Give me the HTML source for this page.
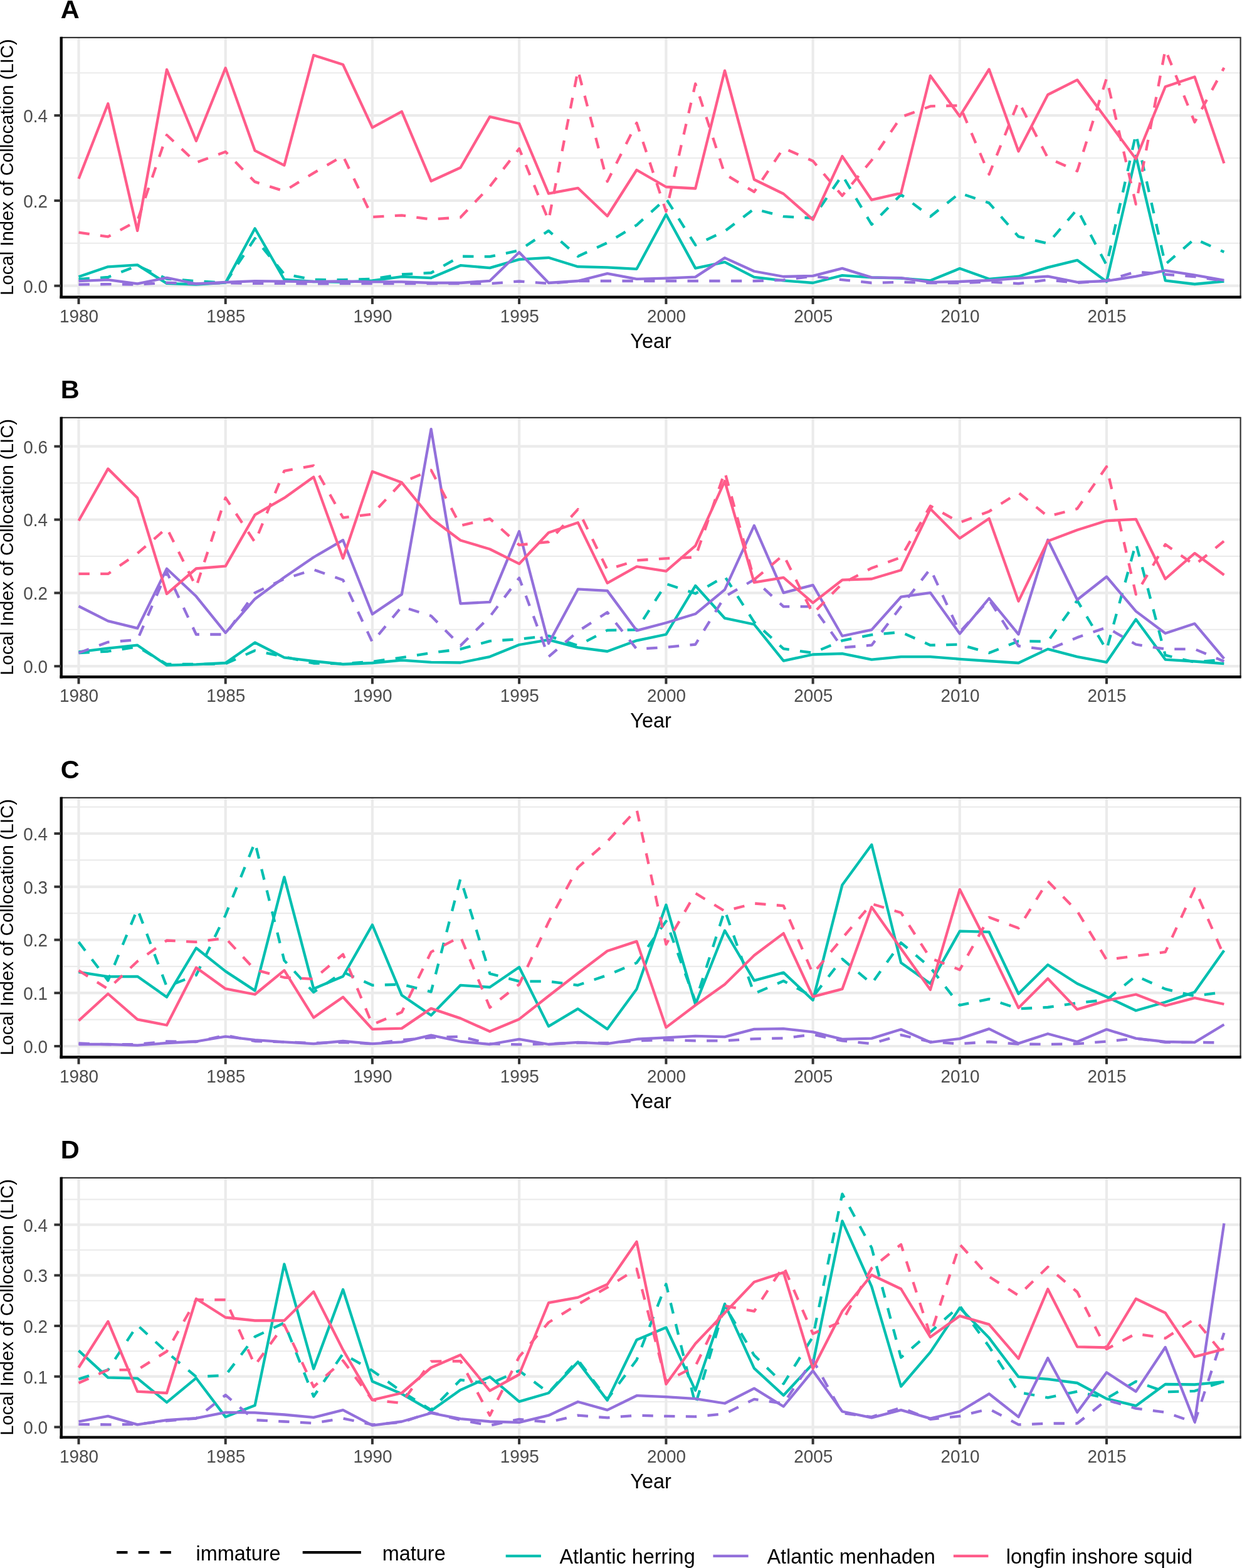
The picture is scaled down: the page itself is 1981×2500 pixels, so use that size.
<!DOCTYPE html>
<html><head><meta charset="utf-8"><title>Local Index of Collocation</title>
<style>
html,body{margin:0;padding:0;background:#fff;}
svg{display:block;}
text{font-family:"Liberation Sans",Arial,sans-serif;}
</style></head><body>
<svg width="1981" height="2500" viewBox="0 0 1981 2500">
<rect x="0" y="0" width="1981" height="2500" fill="#fff"/>

<g>
<line x1="97.7" x2="1978.6" y1="387.8" y2="387.8" stroke="#EBEBEB" stroke-width="2.1"/>
<line x1="97.7" x2="1978.6" y1="252.0" y2="252.0" stroke="#EBEBEB" stroke-width="2.1"/>
<line x1="97.7" x2="1978.6" y1="116.2" y2="116.2" stroke="#EBEBEB" stroke-width="2.1"/>
<line x1="97.7" x2="1978.6" y1="455.7" y2="455.7" stroke="#EBEBEB" stroke-width="4.2"/>
<line x1="97.7" x2="1978.6" y1="319.9" y2="319.9" stroke="#EBEBEB" stroke-width="4.2"/>
<line x1="97.7" x2="1978.6" y1="184.1" y2="184.1" stroke="#EBEBEB" stroke-width="4.2"/>
<line x1="125.5" x2="125.5" y1="59.9" y2="473.7" stroke="#EBEBEB" stroke-width="4.2"/>
<line x1="359.7" x2="359.7" y1="59.9" y2="473.7" stroke="#EBEBEB" stroke-width="4.2"/>
<line x1="593.9" x2="593.9" y1="59.9" y2="473.7" stroke="#EBEBEB" stroke-width="4.2"/>
<line x1="828.1" x2="828.1" y1="59.9" y2="473.7" stroke="#EBEBEB" stroke-width="4.2"/>
<line x1="1062.4" x2="1062.4" y1="59.9" y2="473.7" stroke="#EBEBEB" stroke-width="4.2"/>
<line x1="1296.6" x2="1296.6" y1="59.9" y2="473.7" stroke="#EBEBEB" stroke-width="4.2"/>
<line x1="1530.8" x2="1530.8" y1="59.9" y2="473.7" stroke="#EBEBEB" stroke-width="4.2"/>
<line x1="1765.0" x2="1765.0" y1="59.9" y2="473.7" stroke="#EBEBEB" stroke-width="4.2"/>
<polyline points="125.5,445.2 172.3,442.0 219.2,423.6 266.0,444.5 312.9,448.2 359.7,450.7 406.6,380.1 453.4,437.1 500.2,446.0 547.1,446.1 593.9,444.8 640.8,437.5 687.6,435.0 734.5,408.7 781.3,409.2 828.1,399.3 875.0,367.9 921.8,408.7 968.7,387.0 1015.5,358.8 1062.4,316.7 1109.2,390.7 1156.0,368.6 1202.9,333.0 1249.7,345.2 1296.6,347.7 1343.4,279.3 1390.3,358.0 1437.1,310.3 1483.9,345.2 1530.8,307.9 1577.6,323.6 1624.5,377.2 1671.3,388.3 1718.2,333.7 1765.0,422.7 1811.8,213.4 1858.7,421.5 1905.5,380.9 1952.4,401.8" fill="none" stroke="#00BFB0" stroke-width="4.3" stroke-linejoin="round" stroke-linecap="butt" stroke-dasharray="17.35 17.35"/>
<polyline points="125.5,441.3 172.3,425.3 219.2,422.4 266.0,451.9 312.9,453.6 359.7,450.7 406.6,364.3 453.4,445.7 500.2,449.0 547.1,449.8 593.9,447.3 640.8,441.1 687.6,443.1 734.5,423.2 781.3,427.1 828.1,413.6 875.0,410.8 921.8,425.2 968.7,426.4 1015.5,428.8 1062.4,342.0 1109.2,427.6 1156.0,417.8 1202.9,441.9 1249.7,447.3 1296.6,451.0 1343.4,439.2 1390.3,442.4 1437.1,443.6 1483.9,447.3 1530.8,428.1 1577.6,444.8 1624.5,440.7 1671.3,426.4 1718.2,414.8 1765.0,449.0 1811.8,248.6 1858.7,447.3 1905.5,453.0 1952.4,448.5" fill="none" stroke="#00BFB0" stroke-width="4.3" stroke-linejoin="round" stroke-linecap="butt"/>
<polyline points="125.5,453.6 172.3,453.1 219.2,453.6 266.0,450.7 312.9,452.4 359.7,451.1 406.6,451.9 453.4,451.9 500.2,452.4 547.1,452.2 593.9,452.2 640.8,452.2 687.6,452.2 734.5,452.2 781.3,452.2 828.1,448.5 875.0,452.0 921.8,448.0 968.7,448.0 1015.5,448.0 1062.4,448.0 1109.2,448.0 1156.0,448.0 1202.9,448.0 1249.7,446.5 1296.6,440.5 1343.4,446.1 1390.3,451.0 1437.1,449.8 1483.9,451.0 1530.8,451.0 1577.6,449.5 1624.5,452.2 1671.3,446.1 1718.2,451.0 1765.0,447.3 1811.8,433.3 1858.7,437.5 1905.5,441.1 1952.4,448.0" fill="none" stroke="#9370DB" stroke-width="4.3" stroke-linejoin="round" stroke-linecap="butt" stroke-dasharray="17.35 17.35"/>
<polyline points="125.5,448.2 172.3,446.2 219.2,452.4 266.0,442.8 312.9,452.5 359.7,450.0 406.6,448.2 453.4,448.7 500.2,449.0 547.1,448.5 593.9,449.3 640.8,449.3 687.6,451.0 734.5,451.0 781.3,447.8 828.1,402.3 875.0,451.0 921.8,448.0 968.7,436.2 1015.5,444.8 1062.4,443.6 1109.2,441.6 1156.0,411.1 1202.9,432.5 1249.7,441.0 1296.6,439.9 1343.4,427.9 1390.3,442.4 1437.1,443.1 1483.9,449.8 1530.8,449.0 1577.6,447.0 1624.5,443.6 1671.3,440.7 1718.2,449.8 1765.0,448.0 1811.8,440.7 1858.7,431.3 1905.5,438.7 1952.4,446.8" fill="none" stroke="#9370DB" stroke-width="4.3" stroke-linejoin="round" stroke-linecap="butt"/>
<polyline points="125.5,370.6 172.3,377.3 219.2,352.0 266.0,215.2 312.9,259.2 359.7,242.0 406.6,289.9 453.4,304.7 500.2,275.8 547.1,248.6 593.9,346.0 640.8,343.3 687.6,349.7 734.5,346.5 781.3,297.3 828.1,237.0 875.0,351.5 921.8,112.0 968.7,289.4 1015.5,196.0 1062.4,337.1 1109.2,133.5 1156.0,277.6 1202.9,305.9 1249.7,236.2 1296.6,256.7 1343.4,312.0 1390.3,255.5 1437.1,186.6 1483.9,169.4 1530.8,168.2 1577.6,278.0 1624.5,161.8 1671.3,251.8 1718.2,272.7 1765.0,124.9 1811.8,325.6 1858.7,78.9 1905.5,194.8 1952.4,108.0" fill="none" stroke="#FF5C8A" stroke-width="4.3" stroke-linejoin="round" stroke-linecap="butt" stroke-dasharray="17.35 17.35"/>
<polyline points="125.5,285.0 172.3,165.2 219.2,367.9 266.0,110.9 312.9,224.8 359.7,108.4 406.6,240.2 453.4,263.6 500.2,88.0 547.1,103.0 593.9,203.4 640.8,177.8 687.6,288.7 734.5,267.3 781.3,186.1 828.1,197.0 875.0,308.6 921.8,299.8 968.7,344.5 1015.5,271.0 1062.4,298.0 1109.2,300.5 1156.0,112.6 1202.9,286.2 1249.7,309.0 1296.6,350.2 1343.4,249.1 1390.3,318.7 1437.1,307.9 1483.9,120.7 1530.8,185.4 1577.6,110.5 1624.5,241.2 1671.3,151.0 1718.2,127.4 1765.0,190.3 1811.8,253.5 1858.7,138.2 1905.5,122.5 1952.4,260.4" fill="none" stroke="#FF5C8A" stroke-width="4.3" stroke-linejoin="round" stroke-linecap="butt"/>
<rect x="97.7" y="59.9" width="1880.9" height="413.8" fill="none" stroke="#333" stroke-width="2.2"/>
<line x1="97.7" x2="97.7" y1="58.8" y2="475.9" stroke="#000" stroke-width="4.4"/>
<line x1="95.5" x2="1979.7" y1="473.7" y2="473.7" stroke="#000" stroke-width="4.4"/>
<line x1="86.4" x2="97.7" y1="455.7" y2="455.7" stroke="#333" stroke-width="4"/>
<text transform="translate(76,466.5) scale(0.93,1)" text-anchor="end" font-size="30.0" fill="#4D4D4D">0.0</text>
<line x1="86.4" x2="97.7" y1="319.9" y2="319.9" stroke="#333" stroke-width="4"/>
<text transform="translate(76,330.7) scale(0.93,1)" text-anchor="end" font-size="30.0" fill="#4D4D4D">0.2</text>
<line x1="86.4" x2="97.7" y1="184.1" y2="184.1" stroke="#333" stroke-width="4"/>
<text transform="translate(76,194.9) scale(0.93,1)" text-anchor="end" font-size="30.0" fill="#4D4D4D">0.4</text>
<line x1="125.5" x2="125.5" y1="473.7" y2="484.9" stroke="#333" stroke-width="4"/>
<text transform="translate(126.1,513.8) scale(0.93,1)" text-anchor="middle" font-size="30.0" fill="#4D4D4D">1980</text>
<line x1="359.7" x2="359.7" y1="473.7" y2="484.9" stroke="#333" stroke-width="4"/>
<text transform="translate(360.3,513.8) scale(0.93,1)" text-anchor="middle" font-size="30.0" fill="#4D4D4D">1985</text>
<line x1="593.9" x2="593.9" y1="473.7" y2="484.9" stroke="#333" stroke-width="4"/>
<text transform="translate(594.5,513.8) scale(0.93,1)" text-anchor="middle" font-size="30.0" fill="#4D4D4D">1990</text>
<line x1="828.1" x2="828.1" y1="473.7" y2="484.9" stroke="#333" stroke-width="4"/>
<text transform="translate(828.7,513.8) scale(0.93,1)" text-anchor="middle" font-size="30.0" fill="#4D4D4D">1995</text>
<line x1="1062.4" x2="1062.4" y1="473.7" y2="484.9" stroke="#333" stroke-width="4"/>
<text transform="translate(1063.0,513.8) scale(0.93,1)" text-anchor="middle" font-size="30.0" fill="#4D4D4D">2000</text>
<line x1="1296.6" x2="1296.6" y1="473.7" y2="484.9" stroke="#333" stroke-width="4"/>
<text transform="translate(1297.2,513.8) scale(0.93,1)" text-anchor="middle" font-size="30.0" fill="#4D4D4D">2005</text>
<line x1="1530.8" x2="1530.8" y1="473.7" y2="484.9" stroke="#333" stroke-width="4"/>
<text transform="translate(1531.4,513.8) scale(0.93,1)" text-anchor="middle" font-size="30.0" fill="#4D4D4D">2010</text>
<line x1="1765.0" x2="1765.0" y1="473.7" y2="484.9" stroke="#333" stroke-width="4"/>
<text transform="translate(1765.6,513.8) scale(0.93,1)" text-anchor="middle" font-size="30.0" fill="#4D4D4D">2015</text>
<text transform="translate(1038.1,554.8) scale(0.965,1)" text-anchor="middle" font-size="33.6" fill="#000">Year</text>
<text transform="translate(21,266.5) rotate(-90)" x="0" y="0" text-anchor="middle" font-size="29.3" fill="#000">Local Index of Collocation (LIC)</text>
<text x="96.8" y="28.7" font-size="41.5" font-weight="bold" fill="#000">A</text>
</g>
<g>
<line x1="97.7" x2="1978.6" y1="1003.8" y2="1003.8" stroke="#EBEBEB" stroke-width="2.1"/>
<line x1="97.7" x2="1978.6" y1="886.9" y2="886.9" stroke="#EBEBEB" stroke-width="2.1"/>
<line x1="97.7" x2="1978.6" y1="770.1" y2="770.1" stroke="#EBEBEB" stroke-width="2.1"/>
<line x1="97.7" x2="1978.6" y1="1062.2" y2="1062.2" stroke="#EBEBEB" stroke-width="4.2"/>
<line x1="97.7" x2="1978.6" y1="945.4" y2="945.4" stroke="#EBEBEB" stroke-width="4.2"/>
<line x1="97.7" x2="1978.6" y1="828.5" y2="828.5" stroke="#EBEBEB" stroke-width="4.2"/>
<line x1="97.7" x2="1978.6" y1="711.7" y2="711.7" stroke="#EBEBEB" stroke-width="4.2"/>
<line x1="125.5" x2="125.5" y1="665.9" y2="1079.3" stroke="#EBEBEB" stroke-width="4.2"/>
<line x1="359.7" x2="359.7" y1="665.9" y2="1079.3" stroke="#EBEBEB" stroke-width="4.2"/>
<line x1="593.9" x2="593.9" y1="665.9" y2="1079.3" stroke="#EBEBEB" stroke-width="4.2"/>
<line x1="828.1" x2="828.1" y1="665.9" y2="1079.3" stroke="#EBEBEB" stroke-width="4.2"/>
<line x1="1062.4" x2="1062.4" y1="665.9" y2="1079.3" stroke="#EBEBEB" stroke-width="4.2"/>
<line x1="1296.6" x2="1296.6" y1="665.9" y2="1079.3" stroke="#EBEBEB" stroke-width="4.2"/>
<line x1="1530.8" x2="1530.8" y1="665.9" y2="1079.3" stroke="#EBEBEB" stroke-width="4.2"/>
<line x1="1765.0" x2="1765.0" y1="665.9" y2="1079.3" stroke="#EBEBEB" stroke-width="4.2"/>
<polyline points="125.5,1041.0 172.3,1038.5 219.2,1031.2 266.0,1059.0 312.9,1059.0 359.7,1058.2 406.6,1037.3 453.4,1047.1 500.2,1057.5 547.1,1058.2 593.9,1055.0 640.8,1048.4 687.6,1041.0 734.5,1034.9 781.3,1022.1 828.1,1018.9 875.0,1013.9 921.8,1029.4 968.7,1004.8 1015.5,1004.1 1062.4,930.8 1109.2,946.3 1156.0,919.0 1202.9,991.8 1249.7,1034.3 1296.6,1041.0 1343.4,1021.3 1390.3,1012.2 1437.1,1007.8 1483.9,1028.7 1530.8,1027.5 1577.6,1041.0 1624.5,1022.3 1671.3,1022.6 1718.2,957.4 1765.0,1036.1 1811.8,866.2 1858.7,1044.7 1905.5,1055.8 1952.4,1051.6" fill="none" stroke="#00BFB0" stroke-width="4.3" stroke-linejoin="round" stroke-linecap="butt" stroke-dasharray="17.35 17.35"/>
<polyline points="125.5,1039.3 172.3,1033.6 219.2,1028.7 266.0,1060.7 312.9,1059.4 359.7,1057.0 406.6,1024.5 453.4,1048.4 500.2,1054.2 547.1,1059.0 593.9,1057.0 640.8,1052.6 687.6,1055.8 734.5,1056.5 781.3,1047.1 828.1,1028.0 875.0,1020.1 921.8,1032.4 968.7,1038.5 1015.5,1021.3 1062.4,1011.5 1109.2,933.8 1156.0,985.7 1202.9,995.5 1249.7,1053.6 1296.6,1043.5 1343.4,1042.2 1390.3,1051.6 1437.1,1047.1 1483.9,1047.1 1530.8,1050.8 1577.6,1054.0 1624.5,1057.0 1671.3,1034.9 1718.2,1047.1 1765.0,1055.8 1811.8,987.4 1858.7,1051.6 1905.5,1054.5 1952.4,1058.2" fill="none" stroke="#00BFB0" stroke-width="4.3" stroke-linejoin="round" stroke-linecap="butt"/>
<polyline points="125.5,1041.0 172.3,1023.8 219.2,1020.1 266.0,912.0 312.9,1011.5 359.7,1011.5 406.6,945.1 453.4,923.0 500.2,908.2 547.1,924.7 593.9,1023.8 640.8,967.2 687.6,982.0 734.5,1029.4 781.3,983.2 828.1,921.5 875.0,1047.1 921.8,1006.6 968.7,976.3 1015.5,1034.9 1062.4,1031.9 1109.2,1027.5 1156.0,951.2 1202.9,924.2 1249.7,967.2 1296.6,967.2 1343.4,1032.4 1390.3,1028.7 1437.1,967.2 1483.9,907.0 1530.8,1007.8 1577.6,956.2 1624.5,1030.0 1671.3,1036.1 1718.2,1016.4 1765.0,1000.4 1811.8,1027.5 1858.7,1034.9 1905.5,1034.9 1952.4,1054.5" fill="none" stroke="#9370DB" stroke-width="4.3" stroke-linejoin="round" stroke-linecap="butt" stroke-dasharray="17.35 17.35"/>
<polyline points="125.5,966.5 172.3,990.1 219.2,1001.7 266.0,906.7 312.9,950.8 359.7,1008.8 406.6,954.9 453.4,920.5 500.2,888.5 547.1,861.2 593.9,979.3 640.8,947.6 687.6,684.2 734.5,962.3 781.3,959.8 828.1,847.2 875.0,1026.0 921.8,939.4 968.7,941.9 1015.5,1005.3 1062.4,993.0 1109.2,978.8 1156.0,940.2 1202.9,837.9 1249.7,945.1 1296.6,932.8 1343.4,1014.0 1390.3,1004.1 1437.1,951.7 1483.9,945.1 1530.8,1010.3 1577.6,954.0 1624.5,1011.3 1671.3,860.8 1718.2,956.2 1765.0,919.5 1811.8,974.6 1858.7,1009.8 1905.5,994.3 1952.4,1050.1" fill="none" stroke="#9370DB" stroke-width="4.3" stroke-linejoin="round" stroke-linecap="butt"/>
<polyline points="125.5,914.9 172.3,914.9 219.2,882.4 266.0,841.8 312.9,935.8 359.7,793.6 406.6,864.4 453.4,750.8 500.2,742.4 547.1,825.3 593.9,819.7 640.8,769.3 687.6,749.6 734.5,838.1 781.3,827.1 828.1,868.9 875.0,864.0 921.8,812.1 968.7,908.2 1015.5,893.5 1062.4,890.3 1109.2,888.5 1156.0,752.3 1202.9,924.2 1249.7,884.8 1296.6,978.3 1343.4,930.3 1390.3,905.7 1437.1,888.5 1483.9,806.7 1530.8,833.2 1577.6,815.4 1624.5,785.5 1671.3,823.4 1718.2,811.1 1765.0,744.0 1811.8,947.6 1858.7,868.1 1905.5,900.8 1952.4,862.7" fill="none" stroke="#FF5C8A" stroke-width="4.3" stroke-linejoin="round" stroke-linecap="butt" stroke-dasharray="17.35 17.35"/>
<polyline points="125.5,830.3 172.3,747.4 219.2,793.9 266.0,946.8 312.9,906.5 359.7,902.6 406.6,820.9 453.4,793.9 500.2,760.4 547.1,890.3 593.9,751.8 640.8,769.3 687.6,826.3 734.5,861.5 781.3,875.5 828.1,898.9 875.0,849.2 921.8,833.2 968.7,929.6 1015.5,903.3 1062.4,910.7 1109.2,870.1 1156.0,767.1 1202.9,928.6 1249.7,920.8 1296.6,961.1 1343.4,924.7 1390.3,923.0 1437.1,909.0 1483.9,811.3 1530.8,858.3 1577.6,826.8 1624.5,958.6 1671.3,862.7 1718.2,845.0 1765.0,830.3 1811.8,827.8 1858.7,923.0 1905.5,882.1 1952.4,916.8" fill="none" stroke="#FF5C8A" stroke-width="4.3" stroke-linejoin="round" stroke-linecap="butt"/>
<rect x="97.7" y="665.9" width="1880.9" height="413.4" fill="none" stroke="#333" stroke-width="2.2"/>
<line x1="97.7" x2="97.7" y1="664.8" y2="1081.5" stroke="#000" stroke-width="4.4"/>
<line x1="95.5" x2="1979.7" y1="1079.3" y2="1079.3" stroke="#000" stroke-width="4.4"/>
<line x1="86.4" x2="97.7" y1="1062.2" y2="1062.2" stroke="#333" stroke-width="4"/>
<text transform="translate(76,1073.0) scale(0.93,1)" text-anchor="end" font-size="30.0" fill="#4D4D4D">0.0</text>
<line x1="86.4" x2="97.7" y1="945.4" y2="945.4" stroke="#333" stroke-width="4"/>
<text transform="translate(76,956.2) scale(0.93,1)" text-anchor="end" font-size="30.0" fill="#4D4D4D">0.2</text>
<line x1="86.4" x2="97.7" y1="828.5" y2="828.5" stroke="#333" stroke-width="4"/>
<text transform="translate(76,839.3) scale(0.93,1)" text-anchor="end" font-size="30.0" fill="#4D4D4D">0.4</text>
<line x1="86.4" x2="97.7" y1="711.7" y2="711.7" stroke="#333" stroke-width="4"/>
<text transform="translate(76,722.5) scale(0.93,1)" text-anchor="end" font-size="30.0" fill="#4D4D4D">0.6</text>
<line x1="125.5" x2="125.5" y1="1079.3" y2="1090.5" stroke="#333" stroke-width="4"/>
<text transform="translate(126.1,1119.4) scale(0.93,1)" text-anchor="middle" font-size="30.0" fill="#4D4D4D">1980</text>
<line x1="359.7" x2="359.7" y1="1079.3" y2="1090.5" stroke="#333" stroke-width="4"/>
<text transform="translate(360.3,1119.4) scale(0.93,1)" text-anchor="middle" font-size="30.0" fill="#4D4D4D">1985</text>
<line x1="593.9" x2="593.9" y1="1079.3" y2="1090.5" stroke="#333" stroke-width="4"/>
<text transform="translate(594.5,1119.4) scale(0.93,1)" text-anchor="middle" font-size="30.0" fill="#4D4D4D">1990</text>
<line x1="828.1" x2="828.1" y1="1079.3" y2="1090.5" stroke="#333" stroke-width="4"/>
<text transform="translate(828.7,1119.4) scale(0.93,1)" text-anchor="middle" font-size="30.0" fill="#4D4D4D">1995</text>
<line x1="1062.4" x2="1062.4" y1="1079.3" y2="1090.5" stroke="#333" stroke-width="4"/>
<text transform="translate(1063.0,1119.4) scale(0.93,1)" text-anchor="middle" font-size="30.0" fill="#4D4D4D">2000</text>
<line x1="1296.6" x2="1296.6" y1="1079.3" y2="1090.5" stroke="#333" stroke-width="4"/>
<text transform="translate(1297.2,1119.4) scale(0.93,1)" text-anchor="middle" font-size="30.0" fill="#4D4D4D">2005</text>
<line x1="1530.8" x2="1530.8" y1="1079.3" y2="1090.5" stroke="#333" stroke-width="4"/>
<text transform="translate(1531.4,1119.4) scale(0.93,1)" text-anchor="middle" font-size="30.0" fill="#4D4D4D">2010</text>
<line x1="1765.0" x2="1765.0" y1="1079.3" y2="1090.5" stroke="#333" stroke-width="4"/>
<text transform="translate(1765.6,1119.4) scale(0.93,1)" text-anchor="middle" font-size="30.0" fill="#4D4D4D">2015</text>
<text transform="translate(1038.1,1160.4) scale(0.965,1)" text-anchor="middle" font-size="33.6" fill="#000">Year</text>
<text transform="translate(21,872.3) rotate(-90)" x="0" y="0" text-anchor="middle" font-size="29.3" fill="#000">Local Index of Collocation (LIC)</text>
<text x="96.8" y="634.7" font-size="41.5" font-weight="bold" fill="#000">B</text>
</g>
<g>
<line x1="97.7" x2="1978.6" y1="1625.6" y2="1625.6" stroke="#EBEBEB" stroke-width="2.1"/>
<line x1="97.7" x2="1978.6" y1="1540.9" y2="1540.9" stroke="#EBEBEB" stroke-width="2.1"/>
<line x1="97.7" x2="1978.6" y1="1456.1" y2="1456.1" stroke="#EBEBEB" stroke-width="2.1"/>
<line x1="97.7" x2="1978.6" y1="1371.4" y2="1371.4" stroke="#EBEBEB" stroke-width="2.1"/>
<line x1="97.7" x2="1978.6" y1="1286.6" y2="1286.6" stroke="#EBEBEB" stroke-width="2.1"/>
<line x1="97.7" x2="1978.6" y1="1668.0" y2="1668.0" stroke="#EBEBEB" stroke-width="4.2"/>
<line x1="97.7" x2="1978.6" y1="1583.2" y2="1583.2" stroke="#EBEBEB" stroke-width="4.2"/>
<line x1="97.7" x2="1978.6" y1="1498.5" y2="1498.5" stroke="#EBEBEB" stroke-width="4.2"/>
<line x1="97.7" x2="1978.6" y1="1413.8" y2="1413.8" stroke="#EBEBEB" stroke-width="4.2"/>
<line x1="97.7" x2="1978.6" y1="1329.0" y2="1329.0" stroke="#EBEBEB" stroke-width="4.2"/>
<line x1="125.5" x2="125.5" y1="1271.9" y2="1685.5" stroke="#EBEBEB" stroke-width="4.2"/>
<line x1="359.7" x2="359.7" y1="1271.9" y2="1685.5" stroke="#EBEBEB" stroke-width="4.2"/>
<line x1="593.9" x2="593.9" y1="1271.9" y2="1685.5" stroke="#EBEBEB" stroke-width="4.2"/>
<line x1="828.1" x2="828.1" y1="1271.9" y2="1685.5" stroke="#EBEBEB" stroke-width="4.2"/>
<line x1="1062.4" x2="1062.4" y1="1271.9" y2="1685.5" stroke="#EBEBEB" stroke-width="4.2"/>
<line x1="1296.6" x2="1296.6" y1="1271.9" y2="1685.5" stroke="#EBEBEB" stroke-width="4.2"/>
<line x1="1530.8" x2="1530.8" y1="1271.9" y2="1685.5" stroke="#EBEBEB" stroke-width="4.2"/>
<line x1="1765.0" x2="1765.0" y1="1271.9" y2="1685.5" stroke="#EBEBEB" stroke-width="4.2"/>
<polyline points="125.5,1501.9 172.3,1563.4 219.2,1449.3 266.0,1573.2 312.9,1554.8 359.7,1458.9 406.6,1343.0 453.4,1531.4 500.2,1582.0 547.1,1549.9 593.9,1570.8 640.8,1569.5 687.6,1581.3 734.5,1400.9 781.3,1552.3 828.1,1564.6 875.0,1564.6 921.8,1570.8 968.7,1554.8 1015.5,1535.1 1062.4,1468.7 1109.2,1596.6 1156.0,1451.3 1202.9,1584.3 1249.7,1564.0 1296.6,1589.2 1343.4,1529.0 1390.3,1568.3 1437.1,1503.1 1483.9,1542.5 1530.8,1602.7 1577.6,1592.9 1624.5,1608.3 1671.3,1606.0 1718.2,1599.1 1765.0,1594.1 1811.8,1556.0 1858.7,1576.9 1905.5,1588.0 1952.4,1581.8" fill="none" stroke="#00BFB0" stroke-width="4.3" stroke-linejoin="round" stroke-linecap="butt" stroke-dasharray="17.35 17.35"/>
<polyline points="125.5,1549.9 172.3,1557.2 219.2,1556.8 266.0,1589.7 312.9,1511.5 359.7,1548.6 406.6,1579.4 453.4,1398.4 500.2,1576.4 547.1,1556.8 593.9,1474.6 640.8,1586.8 687.6,1618.7 734.5,1570.8 781.3,1574.0 828.1,1542.0 875.0,1636.4 921.8,1608.4 968.7,1640.8 1015.5,1576.9 1062.4,1442.7 1109.2,1601.5 1156.0,1483.7 1202.9,1563.4 1249.7,1550.6 1296.6,1594.6 1343.4,1410.9 1390.3,1346.8 1437.1,1535.1 1483.9,1568.3 1530.8,1484.7 1577.6,1485.9 1624.5,1584.5 1671.3,1538.3 1718.2,1568.3 1765.0,1589.2 1811.8,1611.3 1858.7,1597.8 1905.5,1581.8 1952.4,1515.4" fill="none" stroke="#00BFB0" stroke-width="4.3" stroke-linejoin="round" stroke-linecap="butt"/>
<polyline points="125.5,1663.5 172.3,1665.4 219.2,1665.0 266.0,1660.5 312.9,1661.0 359.7,1650.7 406.6,1660.0 453.4,1661.3 500.2,1663.0 547.1,1661.8 593.9,1664.2 640.8,1658.1 687.6,1654.4 734.5,1652.6 781.3,1664.2 828.1,1665.4 875.0,1664.2 921.8,1662.5 968.7,1663.0 1015.5,1659.3 1062.4,1658.1 1109.2,1659.3 1156.0,1659.3 1202.9,1656.3 1249.7,1655.3 1296.6,1649.5 1343.4,1659.3 1390.3,1664.2 1437.1,1650.2 1483.9,1661.0 1530.8,1664.2 1577.6,1661.0 1624.5,1664.6 1671.3,1665.0 1718.2,1664.2 1765.0,1660.5 1811.8,1655.6 1858.7,1661.8 1905.5,1661.8 1952.4,1662.5" fill="none" stroke="#9370DB" stroke-width="4.3" stroke-linejoin="round" stroke-linecap="butt" stroke-dasharray="17.35 17.35"/>
<polyline points="125.5,1665.0 172.3,1665.0 219.2,1666.7 266.0,1663.0 312.9,1660.5 359.7,1652.7 406.6,1658.1 453.4,1661.3 500.2,1664.2 547.1,1660.0 593.9,1664.2 640.8,1661.3 687.6,1650.7 734.5,1660.5 781.3,1665.0 828.1,1656.8 875.0,1665.0 921.8,1661.8 968.7,1664.2 1015.5,1656.8 1062.4,1654.4 1109.2,1651.9 1156.0,1653.1 1202.9,1640.8 1249.7,1640.2 1296.6,1645.3 1343.4,1656.8 1390.3,1655.6 1437.1,1641.3 1483.9,1661.8 1530.8,1656.1 1577.6,1640.4 1624.5,1663.6 1671.3,1648.2 1718.2,1661.0 1765.0,1641.3 1811.8,1655.6 1858.7,1661.0 1905.5,1661.8 1952.4,1633.5" fill="none" stroke="#9370DB" stroke-width="4.3" stroke-linejoin="round" stroke-linecap="butt"/>
<polyline points="125.5,1547.4 172.3,1576.9 219.2,1532.7 266.0,1499.5 312.9,1501.9 359.7,1495.8 406.6,1546.2 453.4,1558.5 500.2,1560.9 547.1,1521.6 593.9,1633.5 640.8,1613.8 687.6,1517.9 734.5,1493.3 781.3,1606.4 828.1,1569.5 875.0,1470.0 921.8,1383.0 968.7,1341.6 1015.5,1290.5 1062.4,1505.6 1109.2,1424.2 1156.0,1452.7 1202.9,1440.4 1249.7,1444.1 1296.6,1552.3 1343.4,1495.8 1390.3,1441.0 1437.1,1455.2 1483.9,1527.7 1530.8,1546.2 1577.6,1462.6 1624.5,1479.8 1671.3,1405.0 1718.2,1452.7 1765.0,1530.2 1811.8,1524.0 1858.7,1517.9 1905.5,1416.6 1952.4,1524.0" fill="none" stroke="#FF5C8A" stroke-width="4.3" stroke-linejoin="round" stroke-linecap="butt" stroke-dasharray="17.35 17.35"/>
<polyline points="125.5,1627.3 172.3,1584.5 219.2,1625.4 266.0,1634.5 312.9,1542.7 359.7,1576.4 406.6,1585.5 453.4,1547.2 500.2,1622.4 547.1,1589.7 593.9,1640.8 640.8,1639.6 687.6,1607.9 734.5,1623.6 781.3,1644.5 828.1,1624.9 875.0,1588.0 921.8,1551.8 968.7,1516.2 1015.5,1500.9 1062.4,1638.1 1109.2,1602.7 1156.0,1569.5 1202.9,1523.3 1249.7,1488.1 1296.6,1589.2 1343.4,1576.9 1390.3,1446.3 1437.1,1512.5 1483.9,1577.9 1530.8,1418.1 1577.6,1510.0 1624.5,1606.9 1671.3,1560.2 1718.2,1609.4 1765.0,1595.4 1811.8,1585.5 1858.7,1603.5 1905.5,1591.2 1952.4,1601.0" fill="none" stroke="#FF5C8A" stroke-width="4.3" stroke-linejoin="round" stroke-linecap="butt"/>
<rect x="97.7" y="1271.9" width="1880.9" height="413.6" fill="none" stroke="#333" stroke-width="2.2"/>
<line x1="97.7" x2="97.7" y1="1270.8" y2="1687.7" stroke="#000" stroke-width="4.4"/>
<line x1="95.5" x2="1979.7" y1="1685.5" y2="1685.5" stroke="#000" stroke-width="4.4"/>
<line x1="86.4" x2="97.7" y1="1668.0" y2="1668.0" stroke="#333" stroke-width="4"/>
<text transform="translate(76,1678.8) scale(0.93,1)" text-anchor="end" font-size="30.0" fill="#4D4D4D">0.0</text>
<line x1="86.4" x2="97.7" y1="1583.2" y2="1583.2" stroke="#333" stroke-width="4"/>
<text transform="translate(76,1594.0) scale(0.93,1)" text-anchor="end" font-size="30.0" fill="#4D4D4D">0.1</text>
<line x1="86.4" x2="97.7" y1="1498.5" y2="1498.5" stroke="#333" stroke-width="4"/>
<text transform="translate(76,1509.3) scale(0.93,1)" text-anchor="end" font-size="30.0" fill="#4D4D4D">0.2</text>
<line x1="86.4" x2="97.7" y1="1413.8" y2="1413.8" stroke="#333" stroke-width="4"/>
<text transform="translate(76,1424.5) scale(0.93,1)" text-anchor="end" font-size="30.0" fill="#4D4D4D">0.3</text>
<line x1="86.4" x2="97.7" y1="1329.0" y2="1329.0" stroke="#333" stroke-width="4"/>
<text transform="translate(76,1339.8) scale(0.93,1)" text-anchor="end" font-size="30.0" fill="#4D4D4D">0.4</text>
<line x1="125.5" x2="125.5" y1="1685.5" y2="1696.7" stroke="#333" stroke-width="4"/>
<text transform="translate(126.1,1725.6) scale(0.93,1)" text-anchor="middle" font-size="30.0" fill="#4D4D4D">1980</text>
<line x1="359.7" x2="359.7" y1="1685.5" y2="1696.7" stroke="#333" stroke-width="4"/>
<text transform="translate(360.3,1725.6) scale(0.93,1)" text-anchor="middle" font-size="30.0" fill="#4D4D4D">1985</text>
<line x1="593.9" x2="593.9" y1="1685.5" y2="1696.7" stroke="#333" stroke-width="4"/>
<text transform="translate(594.5,1725.6) scale(0.93,1)" text-anchor="middle" font-size="30.0" fill="#4D4D4D">1990</text>
<line x1="828.1" x2="828.1" y1="1685.5" y2="1696.7" stroke="#333" stroke-width="4"/>
<text transform="translate(828.7,1725.6) scale(0.93,1)" text-anchor="middle" font-size="30.0" fill="#4D4D4D">1995</text>
<line x1="1062.4" x2="1062.4" y1="1685.5" y2="1696.7" stroke="#333" stroke-width="4"/>
<text transform="translate(1063.0,1725.6) scale(0.93,1)" text-anchor="middle" font-size="30.0" fill="#4D4D4D">2000</text>
<line x1="1296.6" x2="1296.6" y1="1685.5" y2="1696.7" stroke="#333" stroke-width="4"/>
<text transform="translate(1297.2,1725.6) scale(0.93,1)" text-anchor="middle" font-size="30.0" fill="#4D4D4D">2005</text>
<line x1="1530.8" x2="1530.8" y1="1685.5" y2="1696.7" stroke="#333" stroke-width="4"/>
<text transform="translate(1531.4,1725.6) scale(0.93,1)" text-anchor="middle" font-size="30.0" fill="#4D4D4D">2010</text>
<line x1="1765.0" x2="1765.0" y1="1685.5" y2="1696.7" stroke="#333" stroke-width="4"/>
<text transform="translate(1765.6,1725.6) scale(0.93,1)" text-anchor="middle" font-size="30.0" fill="#4D4D4D">2015</text>
<text transform="translate(1038.1,1766.6) scale(0.965,1)" text-anchor="middle" font-size="33.6" fill="#000">Year</text>
<text transform="translate(21,1478.4) rotate(-90)" x="0" y="0" text-anchor="middle" font-size="29.3" fill="#000">Local Index of Collocation (LIC)</text>
<text x="96.8" y="1240.7" font-size="41.5" font-weight="bold" fill="#000">C</text>
</g>
<g>
<line x1="97.7" x2="1978.6" y1="2235.0" y2="2235.0" stroke="#EBEBEB" stroke-width="2.1"/>
<line x1="97.7" x2="1978.6" y1="2154.3" y2="2154.3" stroke="#EBEBEB" stroke-width="2.1"/>
<line x1="97.7" x2="1978.6" y1="2073.7" y2="2073.7" stroke="#EBEBEB" stroke-width="2.1"/>
<line x1="97.7" x2="1978.6" y1="1993.0" y2="1993.0" stroke="#EBEBEB" stroke-width="2.1"/>
<line x1="97.7" x2="1978.6" y1="1912.4" y2="1912.4" stroke="#EBEBEB" stroke-width="2.1"/>
<line x1="97.7" x2="1978.6" y1="2275.3" y2="2275.3" stroke="#EBEBEB" stroke-width="4.2"/>
<line x1="97.7" x2="1978.6" y1="2194.7" y2="2194.7" stroke="#EBEBEB" stroke-width="4.2"/>
<line x1="97.7" x2="1978.6" y1="2114.0" y2="2114.0" stroke="#EBEBEB" stroke-width="4.2"/>
<line x1="97.7" x2="1978.6" y1="2033.4" y2="2033.4" stroke="#EBEBEB" stroke-width="4.2"/>
<line x1="97.7" x2="1978.6" y1="1952.7" y2="1952.7" stroke="#EBEBEB" stroke-width="4.2"/>
<line x1="125.5" x2="125.5" y1="1877.9" y2="2291.6" stroke="#EBEBEB" stroke-width="4.2"/>
<line x1="359.7" x2="359.7" y1="1877.9" y2="2291.6" stroke="#EBEBEB" stroke-width="4.2"/>
<line x1="593.9" x2="593.9" y1="1877.9" y2="2291.6" stroke="#EBEBEB" stroke-width="4.2"/>
<line x1="828.1" x2="828.1" y1="1877.9" y2="2291.6" stroke="#EBEBEB" stroke-width="4.2"/>
<line x1="1062.4" x2="1062.4" y1="1877.9" y2="2291.6" stroke="#EBEBEB" stroke-width="4.2"/>
<line x1="1296.6" x2="1296.6" y1="1877.9" y2="2291.6" stroke="#EBEBEB" stroke-width="4.2"/>
<line x1="1530.8" x2="1530.8" y1="1877.9" y2="2291.6" stroke="#EBEBEB" stroke-width="4.2"/>
<line x1="1765.0" x2="1765.0" y1="1877.9" y2="2291.6" stroke="#EBEBEB" stroke-width="4.2"/>
<polyline points="125.5,2198.9 172.3,2184.1 219.2,2112.8 266.0,2155.9 312.9,2195.2 359.7,2192.8 406.6,2131.3 453.4,2109.1 500.2,2226.5 547.1,2158.3 593.9,2185.4 640.8,2218.6 687.6,2248.1 734.5,2200.1 781.3,2206.3 828.1,2185.4 875.0,2220.6 921.8,2168.2 968.7,2230.9 1015.5,2168.2 1062.4,2047.4 1109.2,2239.5 1156.0,2082.1 1202.9,2160.8 1249.7,2206.3 1296.6,2131.3 1343.4,1903.6 1390.3,1989.6 1437.1,2164.5 1483.9,2123.9 1530.8,2082.1 1577.6,2147.0 1624.5,2219.8 1671.3,2228.4 1718.2,2218.6 1765.0,2229.6 1811.8,2202.6 1858.7,2219.3 1905.5,2217.8 1952.4,2202.6" fill="none" stroke="#00BFB0" stroke-width="4.3" stroke-linejoin="round" stroke-linecap="butt" stroke-dasharray="17.35 17.35"/>
<polyline points="125.5,2153.4 172.3,2196.4 219.2,2197.7 266.0,2235.8 312.9,2197.2 359.7,2259.1 406.6,2240.7 453.4,2015.5 500.2,2182.5 547.1,2056.0 593.9,2202.6 640.8,2222.3 687.6,2249.3 734.5,2216.1 781.3,2195.2 828.1,2234.6 875.0,2221.0 921.8,2171.4 968.7,2232.6 1015.5,2136.2 1062.4,2116.5 1109.2,2216.9 1156.0,2078.9 1202.9,2181.7 1249.7,2224.7 1296.6,2174.3 1343.4,1946.6 1390.3,2051.4 1437.1,2210.5 1483.9,2155.9 1530.8,2085.3 1577.6,2133.1 1624.5,2195.2 1671.3,2198.9 1718.2,2205.0 1765.0,2230.1 1811.8,2241.4 1858.7,2207.0 1905.5,2207.5 1952.4,2203.1" fill="none" stroke="#00BFB0" stroke-width="4.3" stroke-linejoin="round" stroke-linecap="butt"/>
<polyline points="125.5,2270.9 172.3,2271.4 219.2,2270.9 266.0,2265.3 312.9,2261.6 359.7,2224.2 406.6,2264.1 453.4,2266.5 500.2,2269.0 547.1,2261.6 593.9,2271.4 640.8,2267.8 687.6,2251.8 734.5,2264.1 781.3,2272.7 828.1,2262.8 875.0,2267.5 921.8,2256.7 968.7,2260.4 1015.5,2256.7 1062.4,2257.9 1109.2,2258.7 1156.0,2254.2 1202.9,2230.9 1249.7,2237.6 1296.6,2168.2 1343.4,2253.0 1390.3,2259.1 1437.1,2244.4 1483.9,2262.8 1530.8,2257.9 1577.6,2246.3 1624.5,2271.4 1671.3,2269.5 1718.2,2269.5 1765.0,2232.1 1811.8,2245.6 1858.7,2251.8 1905.5,2267.8 1952.4,2125.1" fill="none" stroke="#9370DB" stroke-width="4.3" stroke-linejoin="round" stroke-linecap="butt" stroke-dasharray="17.35 17.35"/>
<polyline points="125.5,2266.5 172.3,2257.9 219.2,2271.4 266.0,2264.1 312.9,2261.1 359.7,2251.8 406.6,2252.3 453.4,2255.5 500.2,2259.9 547.1,2248.1 593.9,2272.7 640.8,2266.5 687.6,2253.0 734.5,2262.1 781.3,2266.5 828.1,2267.8 875.0,2256.7 921.8,2235.0 968.7,2248.1 1015.5,2225.2 1062.4,2227.2 1109.2,2230.1 1156.0,2237.5 1202.9,2213.7 1249.7,2242.5 1296.6,2185.4 1343.4,2250.5 1390.3,2260.4 1437.1,2248.1 1483.9,2261.6 1530.8,2250.5 1577.6,2222.3 1624.5,2259.1 1671.3,2165.2 1718.2,2251.8 1765.0,2188.3 1811.8,2218.6 1858.7,2148.0 1905.5,2267.0 1952.4,1950.5" fill="none" stroke="#9370DB" stroke-width="4.3" stroke-linejoin="round" stroke-linecap="butt"/>
<polyline points="125.5,2205.0 172.3,2184.1 219.2,2184.1 266.0,2154.6 312.9,2072.3 359.7,2072.3 406.6,2176.8 453.4,2112.3 500.2,2211.2 547.1,2169.4 593.9,2232.1 640.8,2237.0 687.6,2170.6 734.5,2170.1 781.3,2256.7 828.1,2163.2 875.0,2108.5 921.8,2079.6 968.7,2052.6 1015.5,2023.1 1062.4,2202.6 1109.2,2178.0 1156.0,2082.1 1202.9,2090.7 1249.7,2019.0 1296.6,2126.4 1343.4,2106.7 1390.3,2021.9 1437.1,1984.2 1483.9,2128.8 1530.8,1984.0 1577.6,2035.4 1624.5,2065.5 1671.3,2020.0 1718.2,2060.0 1765.0,2151.0 1811.8,2126.4 1858.7,2133.7 1905.5,2103.0 1952.4,2160.8" fill="none" stroke="#FF5C8A" stroke-width="4.3" stroke-linejoin="round" stroke-linecap="butt" stroke-dasharray="17.35 17.35"/>
<polyline points="125.5,2180.5 172.3,2106.9 219.2,2218.6 266.0,2221.0 312.9,2070.8 359.7,2100.5 406.6,2105.5 453.4,2105.5 500.2,2059.5 547.1,2152.2 593.9,2232.1 640.8,2221.0 687.6,2180.5 734.5,2160.3 781.3,2217.3 828.1,2191.5 875.0,2077.2 921.8,2068.6 968.7,2047.7 1015.5,1979.8 1062.4,2206.8 1109.2,2142.3 1156.0,2093.2 1202.9,2044.0 1249.7,2028.7 1296.6,2182.2 1343.4,2090.7 1390.3,2032.7 1437.1,2055.0 1483.9,2131.8 1530.8,2098.1 1577.6,2111.6 1624.5,2166.2 1671.3,2055.3 1718.2,2147.3 1765.0,2148.5 1811.8,2070.8 1858.7,2093.2 1905.5,2163.2 1952.4,2150.9" fill="none" stroke="#FF5C8A" stroke-width="4.3" stroke-linejoin="round" stroke-linecap="butt"/>
<rect x="97.7" y="1877.9" width="1880.9" height="413.7" fill="none" stroke="#333" stroke-width="2.2"/>
<line x1="97.7" x2="97.7" y1="1876.8" y2="2293.8" stroke="#000" stroke-width="4.4"/>
<line x1="95.5" x2="1979.7" y1="2291.6" y2="2291.6" stroke="#000" stroke-width="4.4"/>
<line x1="86.4" x2="97.7" y1="2275.3" y2="2275.3" stroke="#333" stroke-width="4"/>
<text transform="translate(76,2286.1) scale(0.93,1)" text-anchor="end" font-size="30.0" fill="#4D4D4D">0.0</text>
<line x1="86.4" x2="97.7" y1="2194.7" y2="2194.7" stroke="#333" stroke-width="4"/>
<text transform="translate(76,2205.5) scale(0.93,1)" text-anchor="end" font-size="30.0" fill="#4D4D4D">0.1</text>
<line x1="86.4" x2="97.7" y1="2114.0" y2="2114.0" stroke="#333" stroke-width="4"/>
<text transform="translate(76,2124.8) scale(0.93,1)" text-anchor="end" font-size="30.0" fill="#4D4D4D">0.2</text>
<line x1="86.4" x2="97.7" y1="2033.4" y2="2033.4" stroke="#333" stroke-width="4"/>
<text transform="translate(76,2044.2) scale(0.93,1)" text-anchor="end" font-size="30.0" fill="#4D4D4D">0.3</text>
<line x1="86.4" x2="97.7" y1="1952.7" y2="1952.7" stroke="#333" stroke-width="4"/>
<text transform="translate(76,1963.5) scale(0.93,1)" text-anchor="end" font-size="30.0" fill="#4D4D4D">0.4</text>
<line x1="125.5" x2="125.5" y1="2291.6" y2="2302.8" stroke="#333" stroke-width="4"/>
<text transform="translate(126.1,2331.7) scale(0.93,1)" text-anchor="middle" font-size="30.0" fill="#4D4D4D">1980</text>
<line x1="359.7" x2="359.7" y1="2291.6" y2="2302.8" stroke="#333" stroke-width="4"/>
<text transform="translate(360.3,2331.7) scale(0.93,1)" text-anchor="middle" font-size="30.0" fill="#4D4D4D">1985</text>
<line x1="593.9" x2="593.9" y1="2291.6" y2="2302.8" stroke="#333" stroke-width="4"/>
<text transform="translate(594.5,2331.7) scale(0.93,1)" text-anchor="middle" font-size="30.0" fill="#4D4D4D">1990</text>
<line x1="828.1" x2="828.1" y1="2291.6" y2="2302.8" stroke="#333" stroke-width="4"/>
<text transform="translate(828.7,2331.7) scale(0.93,1)" text-anchor="middle" font-size="30.0" fill="#4D4D4D">1995</text>
<line x1="1062.4" x2="1062.4" y1="2291.6" y2="2302.8" stroke="#333" stroke-width="4"/>
<text transform="translate(1063.0,2331.7) scale(0.93,1)" text-anchor="middle" font-size="30.0" fill="#4D4D4D">2000</text>
<line x1="1296.6" x2="1296.6" y1="2291.6" y2="2302.8" stroke="#333" stroke-width="4"/>
<text transform="translate(1297.2,2331.7) scale(0.93,1)" text-anchor="middle" font-size="30.0" fill="#4D4D4D">2005</text>
<line x1="1530.8" x2="1530.8" y1="2291.6" y2="2302.8" stroke="#333" stroke-width="4"/>
<text transform="translate(1531.4,2331.7) scale(0.93,1)" text-anchor="middle" font-size="30.0" fill="#4D4D4D">2010</text>
<line x1="1765.0" x2="1765.0" y1="2291.6" y2="2302.8" stroke="#333" stroke-width="4"/>
<text transform="translate(1765.6,2331.7) scale(0.93,1)" text-anchor="middle" font-size="30.0" fill="#4D4D4D">2015</text>
<text transform="translate(1038.1,2372.7) scale(0.965,1)" text-anchor="middle" font-size="33.6" fill="#000">Year</text>
<text transform="translate(21,2084.4) rotate(-90)" x="0" y="0" text-anchor="middle" font-size="29.3" fill="#000">Local Index of Collocation (LIC)</text>
<text x="96.8" y="1846.7" font-size="41.5" font-weight="bold" fill="#000">D</text>
</g>
<line x1="186.1" x2="279.3" y1="2475.2" y2="2475.2" stroke="#000" stroke-width="4.3" stroke-dasharray="17.35 17.35"/>
<text transform="translate(312.5,2487.6) scale(0.965,1)" font-size="33.6" fill="#000">immature</text>
<line x1="482.7" x2="575.9" y1="2475.2" y2="2475.2" stroke="#000" stroke-width="4.3"/>
<text transform="translate(609.8,2487.6) scale(0.965,1)" font-size="33.6" fill="#000">mature</text>
<line x1="806.7" x2="862.9" y1="2480.9" y2="2480.9" stroke="#00BFB0" stroke-width="4.3"/>
<text transform="translate(892.5,2492.9) scale(0.965,1)" font-size="33.6" fill="#000">Atlantic herring</text>
<line x1="1137.4" x2="1193.6" y1="2480.9" y2="2480.9" stroke="#9370DB" stroke-width="4.3"/>
<text transform="translate(1223.4,2492.9) scale(0.965,1)" font-size="33.6" fill="#000">Atlantic menhaden</text>
<line x1="1520.8" x2="1576.4" y1="2480.9" y2="2480.9" stroke="#FF5C8A" stroke-width="4.3"/>
<text transform="translate(1604.8,2492.9) scale(0.965,1)" font-size="33.6" fill="#000">longfin inshore squid</text>
</svg>
</body></html>
